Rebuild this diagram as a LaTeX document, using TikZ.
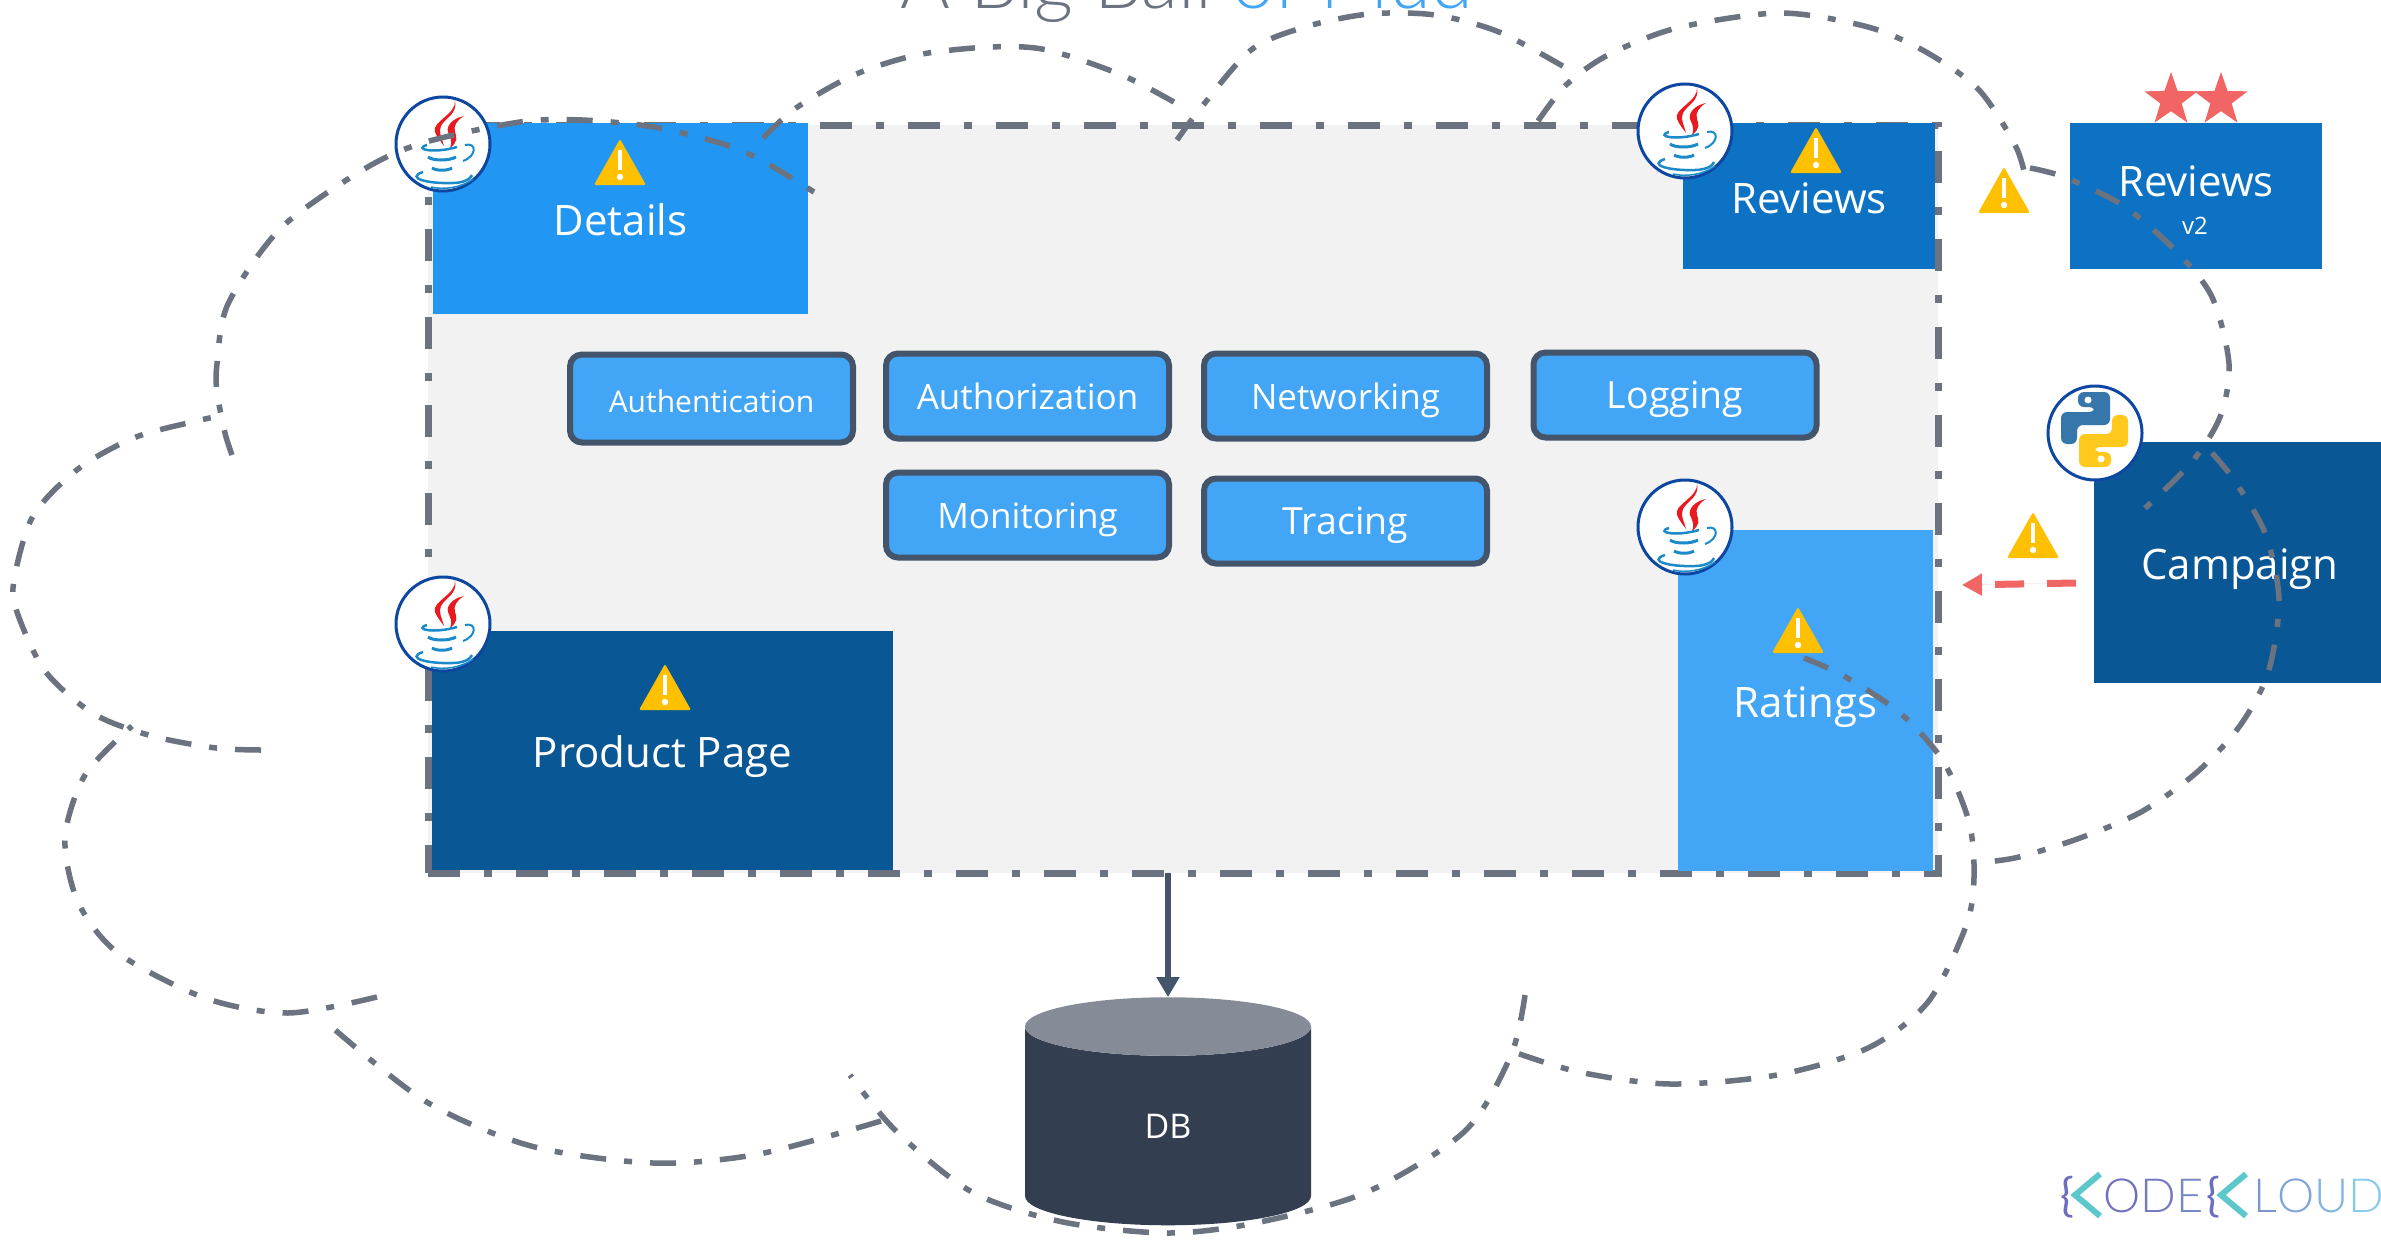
\documentclass[tikz,border=0pt]{standalone}
\usepackage{fontspec}
\setmainfont{Open Sans}
\newfontfamily\thinfont{Lato Light}
\newfontfamily\logofont{Lato}
\usetikzlibrary{arrows.meta,shapes.geometric}
\definecolor{linegrey}{HTML}{6B7280}
\definecolor{pilledge}{HTML}{44546A}
\definecolor{lightblue}{HTML}{42A5F5}
\definecolor{midblue}{HTML}{2196F3}
\definecolor{strongblue}{HTML}{0E72C4}
\definecolor{darkblue}{HTML}{0A5796}
\definecolor{warnred}{HTML}{F26565}
\definecolor{warnyellow}{HTML}{FFC000}
\definecolor{javared}{HTML}{E8191F}
\definecolor{javablue}{HTML}{1B8AC8}
\definecolor{ringblue}{HTML}{0D47A1}
\tikzset{
	svcbox/.style={inner sep=0pt, text=white, text height=40pt, text depth=6pt, font=\fontsize{42}{50}\selectfont},
	pillbox/.style={draw=pilledge, line width=6pt, fill=lightblue, rounded corners=12pt, inner sep=0pt, text=white, text height=33pt, text depth=6pt, minimum width=283pt, minimum height=85pt, font=\fontsize{35}{44}\selectfont},
	cloudline/.style={draw=linegrey, line width=5.5pt, dash pattern=on 26pt off 18pt on 8pt off 18pt},
	javaicon/.pic={
		\draw[ringblue, fill=white, line width=3pt] (0,0) circle[radius=47];
		\fill[javared] (12,-44) .. controls (14,-30) and (-12,-22) .. (-8,-12) .. controls (-6,-7) and (-2,-2) .. (1,2) .. controls (-1,-6) and (-5,-12) .. (-2,-18) .. controls (2,-26) and (15,-30) .. (12,-44) -- cycle;
		\fill[javared] (21,-28) .. controls (10,-26) and (3,-18) .. (5,-12) .. controls (7,-7) and (10,-2) .. (7,4) .. controls (15,-2) and (14,-7) .. (12,-12) .. controls (10,-18) and (14,-24) .. (21,-28) -- cycle;
		\draw[javablue, line width=2.5pt] (-16,1) .. controls (-30,5) and (-10,10) .. (14,3);
		\draw[javablue, line width=3pt] (-15,13) .. controls (-10,17) and (6,17) .. (13,13);
		\draw[javablue, line width=3pt] (-11,24) .. controls (-6,27) and (4,27) .. (9,24);
		\draw[javablue, line width=2pt] (22,1) .. controls (34,-2) and (34,12) .. (20,17);
		\draw[javablue, line width=2.5pt] (-20,28) .. controls (-38,34) and (-15,40) .. (10,39) .. controls (20,39) and (28,35) .. (29,31);
		\draw[javablue, line width=1.5pt] (-12,43) .. controls (0,46) and (18,44) .. (30,35);
	},
	pythonicon/.pic={
		\draw[ringblue, fill=white, line width=3pt] (0,0) circle[radius=47];
		\fill[rounded corners=6pt, fill={rgb,255:red,55;green,118;blue,171}] (-17,-41) -- (15,-41) -- (15,-8) -- (-18,-8) -- (-18,11) -- (-34,11) -- (-34,-21) -- (0,-21) -- (0,-26) -- (-17,-26) -- cycle;
		\fill[rounded corners=6pt, fill={rgb,255:red,255;green,202;blue,29}] (16,34) -- (-16,34) -- (-16,1) -- (17,1) -- (17,-18) -- (33,-18) -- (33,14) -- (-1,14) -- (-1,19) -- (16,19) -- cycle;
		\fill[white] (-7,-33) circle[radius=3.5];
		\fill[white] (6,26) circle[radius=3.5];
	},
	warnsign/.pic={
		\fill[warnyellow, rounded corners=2pt] (-26,0) -- (0,-46) -- (26,0) -- cycle;
		\draw[white, line width=3.5pt] (0,-35) -- (0,-15);
		\fill[white] (0,-8) circle[radius=3.2];
	}
}
\begin{document}
\begin{tikzpicture}[x=1pt,y=-1pt]
	\useasboundingbox (0,0) rectangle (2381,1239);
	\node[anchor=base west, inner sep=0pt, text=linegrey, font=\thinfont\fontsize{76}{85}\selectfont] (title) at (900,9) {A Big Ball \textcolor{lightblue}{of Mud}};
	\node[draw=linegrey, fill={rgb,255:red,242;green,242;blue,242}, line width=7pt, dash pattern=on 32pt off 24pt on 8pt off 24pt, minimum width=1510pt, minimum height=748pt, inner sep=0pt] (meshbox) at (1183,499) {};
	\node[svcbox, fill=midblue, minimum width=375pt, minimum height=191pt] (details) at (620.5,218.5) {Details};
	\node[svcbox, fill=strongblue, minimum width=252pt, minimum height=146pt] (reviews) at (1809,196) {Reviews};
	\node[fill=warnred, star, star points=5, star point ratio=2.5, minimum size=56pt, inner sep=0pt] (starone) at (2171,100) {};
	\node[fill=warnred, star, star points=5, star point ratio=2.5, minimum size=56pt, inner sep=0pt] (startwo) at (2221,100) {};
	\node[svcbox, fill=strongblue, minimum width=252pt, minimum height=146pt] (reviewstwo) at (2196,196) {};
	\node[svcbox] (reviewstwotext) at (2196,179) {Reviews};
	\node[inner sep=0pt, text=white, font=\fontsize{24}{28}\selectfont] (reviewstwover) at (2195,226) {v2};
	\node[svcbox, fill=lightblue, minimum width=255pt, minimum height=341pt] (ratings) at (1805.5,700.5) {Ratings};
	\node[svcbox, fill=darkblue, minimum width=461pt, minimum height=239pt] (productpage) at (662.5,750.5) {Product Page};
	\node[svcbox, fill=darkblue, minimum width=292pt, minimum height=241pt] (campaign) at (2240,562.5) {Campaign};
	\node[pillbox, minimum height=88pt, font=\fontsize{30}{40}\selectfont] (authn) at (711.5,398.5) {Authentication};
	\node[pillbox] (authz) at (1027.5,396) {Authorization};
	\node[pillbox] (networking) at (1345.5,396) {Networking};
	\node[pillbox, font=\fontsize{37.5}{44}\selectfont] (logging) at (1675,395) {Logging};
	\node[pillbox] (monitoring) at (1027.5,515) {Monitoring};
	\node[pillbox, font=\fontsize{37.5}{44}\selectfont] (tracing) at (1345.5,521) {Tracing};
	\node[shape=cylinder, shape border rotate=90, aspect=1.25, draw=none, cylinder uses custom fill, cylinder body fill={rgb,255:red,51;green,63;blue,80}, cylinder end fill={rgb,255:red,133;green,140;blue,151}, minimum width=286pt, minimum height=228pt, inner sep=0pt, text=white, font=\fontsize{34}{40}\selectfont] (db) at (1168,1126) {DB};
	\draw[-{Triangle[length=20pt,width=22pt]}, draw=pilledge, fill=pilledge, line width=6pt, shorten <=-4pt] (meshbox.south -| db.north) -- (db.north);
	\coordinate (redstart) at (2076,583);
	\coordinate (redend) at (1962,585);
	\draw[-{Triangle[length=20pt,width=21pt]}, draw=warnred, fill=warnred, line width=7pt, dash pattern=on 29pt off 23pt] (redstart) -- (redend);
	\pic at (443,144) {javaicon};
	\pic at (1685,131) {javaicon};
	\pic at (1685,527) {javaicon};
	\pic at (443,624) {javaicon};
	\pic at (2095,433) {pythonicon};
	\pic at (620,185) {warnsign};
	\pic at (1816,173) {warnsign};
	\pic at (1798,653) {warnsign};
	\pic at (665,710) {warnsign};
	\pic at (2004,213) {warnsign};
	\pic at (2033,558) {warnsign};
	\draw[cloudline] plot[smooth] coordinates {(232,455) (225,433) (217,392) (217,364) (228,304) (281,228) (366,168) (426,142) (520,122) (582,120) (654,127) (720,143) (761,160) (814,192)};
	\draw[cloudline] plot[smooth] coordinates {(763,138) (796,108) (854,75) (917,55) (990,47) (1047,50) (1124,76) (1188,110)};
	\draw[cloudline] plot[smooth] coordinates {(1177,140) (1200,109) (1251,50) (1305,27) (1369,14) (1435,15) (1499,32) (1566,68)};
	\draw[cloudline] plot[smooth] coordinates {(1538,121) (1566,85) (1608,55) (1677,28) (1780,13) (1868,27) (1926,52) (1979,90) (2016,147) (2027,185)};
	\draw[cloudline] plot[smooth] coordinates {(2030,168) (2064,177) (2122,205) (2175,250) (2212,297) (2229,364) (2220,417) (2191,463) (2143,510)};
	\draw[cloudline] plot[smooth] coordinates {(2212,453) (2234,480) (2265,533) (2279,600) (2268,673) (2239,727) (2196,773) (2141,812) (2080,838) (2019,857) (1985,862)};
	\draw[cloudline] plot[smooth] coordinates {(1804,658) (1844,676) (1900,713) (1943,761) (1969,822) (1974,877) (1966,926) (1928,1002) (1868,1048) (1777,1075) (1670,1084) (1579,1072) (1511,1051)};
	\draw[cloudline] plot[smooth] coordinates {(1525,995) (1511,1055) (1465,1131) (1367,1192) (1260,1222) (1169,1233) (1063,1222) (972,1192) (896,1131) (850,1075)};
	\draw[cloudline] plot[smooth] coordinates {(881,1121) (759,1154) (653,1163) (531,1146) (425,1101) (326,1022)};
	\draw[cloudline] plot[smooth] coordinates {(377,997) (288,1013) (205,998) (118,953) (78,902) (65,838) (85,775) (132,726)};
	\draw[cloudline] plot[smooth] coordinates {(261,750) (216,748) (152,736) (94,714) (45,671) (17,612) (14,580) (33,516) (78,469) (136,437) (201,420) (219,416)};
	\node[anchor=base west, inner sep=0pt, font=\logofont\fontsize{46}{50}\selectfont] (kodebrace) at (2060,1211) {\textcolor[HTML]{6C6FBF}{\{}};
	\coordinate (chevtop) at (2100,1174);
	\coordinate (chevmid) at (2075,1195);
	\coordinate (chevend) at (2100,1216);
	\draw[draw={rgb,255:red,92;green,200;blue,204}, line width=6pt] (chevtop) -- (chevmid) -- (chevend);
	\node[anchor=base west, inner sep=0pt, font=\thinfont\fontsize{47}{50}\selectfont] (kodeword) at (2103,1212) {\textcolor[HTML]{6F6FBE}{O}\textcolor[HTML]{7378C2}{D}\textcolor[HTML]{7688C8}{E}};
	\node[anchor=base west, inner sep=0pt, font=\logofont\fontsize{46}{50}\selectfont] (kloudbrace) at (2206,1211) {\textcolor[HTML]{6C6FBF}{\{}};
	\coordinate (chevtoptwo) at (2246,1174);
	\coordinate (chevmidtwo) at (2221,1195);
	\coordinate (chevendtwo) at (2246,1216);
	\draw[draw={rgb,255:red,92;green,200;blue,204}, line width=6pt] (chevtoptwo) -- (chevmidtwo) -- (chevendtwo);
	\node[anchor=base west, inner sep=0pt, font=\thinfont\fontsize{47}{50}\selectfont] (kloudword) at (2253,1212) {\textcolor[HTML]{7C93CC}{L}\textcolor[HTML]{7FA5D6}{O}\textcolor[HTML]{82B5E0}{U}\textcolor[HTML]{86CBEE}{D}};
\end{tikzpicture}
\end{document}
